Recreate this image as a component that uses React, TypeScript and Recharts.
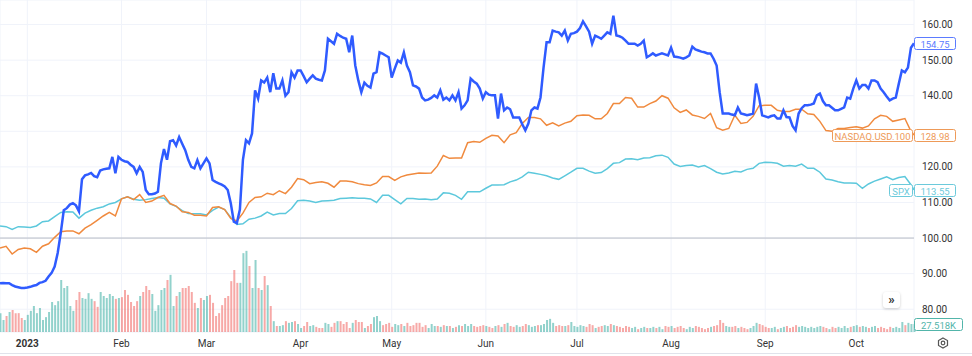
import {
  Bar,
  CartesianGrid,
  Cell,
  ComposedChart,
  Line,
  ReferenceDot,
  ReferenceLine,
  XAxis,
  YAxis,
} from "recharts";

// x axis = day index, 0 = 23 Dec 2022
const monthTicks = [9, 40, 68, 99, 129, 160, 190, 221, 252, 282];
const monthLabels = ["2023", "Feb", "Mar", "Apr", "May", "Jun", "Jul", "Aug", "Sep", "Oct"];
const priceTicks = [80, 90, 100, 110, 120, 130, 140, 150, 160];

// main symbol, one value per day
const mainClose = [
  87.3, 87.4, 87.3, 87.3, 86.8, 86.4, 86.2, 86.0, 86.0, 86.1,
  86.3, 86.6, 86.8, 87.4, 87.6, 88.0, 89.2, 90.2, 92.0, 95.8,
  101.4, 107.8, 108.4, 109.4, 109.8, 109.2, 107.5, 116.5, 117.6, 117.9,
  118.3, 117.4, 117.1, 119.0, 119.3, 119.5, 119.6, 122.8, 118.2, 122.8,
  122.0, 121.6, 121.4, 120.6, 120.0, 118.2, 120.0, 118.6, 113.5, 112.3,
  112.3, 112.5, 113.0, 121.0, 125.0, 122.0, 127.2, 127.5, 126.0, 128.4,
  126.5, 124.7, 122.0, 120.0, 119.6, 121.9, 119.6, 121.0, 122.4, 121.0,
  116.3, 115.8, 115.4, 115.0, 114.5, 113.5, 109.8, 104.6, 104.2, 108.0,
  122.0, 127.5, 126.6, 129.4, 141.5, 139.2, 144.3, 143.7, 145.1, 141.0,
  146.3, 142.0, 142.0, 144.3, 140.0, 141.0, 146.6, 145.1, 147.1, 147.1,
  145.5, 143.8, 144.8, 145.7, 144.8, 144.5, 144.3, 147.1, 156.0, 155.3,
  154.6, 157.4, 156.8, 156.3, 156.0, 152.2, 156.9, 148.5, 144.3, 141.0,
  143.7, 142.8, 142.3, 146.2, 146.6, 152.2, 151.8, 151.3, 150.8, 145.1,
  147.6, 149.9, 149.3, 152.2, 148.5, 146.6, 142.9, 142.6, 142.0, 139.5,
  138.7, 138.9, 139.4, 140.1, 139.5, 141.5, 138.9, 139.5, 138.7, 140.1,
  138.7, 141.0, 136.4, 137.3, 138.7, 144.8, 144.0, 143.4, 142.0, 139.2,
  141.0, 140.3, 140.1, 140.1, 133.6, 140.6, 135.9, 136.7, 136.2, 133.9,
  133.9, 133.9, 132.0, 130.3, 132.2, 135.9, 136.7, 136.4, 139.5, 147.9,
  155.0, 155.0, 158.3, 158.0, 157.8, 156.9, 158.3, 155.5, 157.4, 157.6,
  158.0, 159.0, 160.9, 159.5, 158.0, 154.6, 156.9, 156.5, 156.0, 156.9,
  157.8, 157.4, 162.5, 156.9, 156.7, 156.3, 155.5, 154.6, 154.6, 154.6,
  154.1, 154.6, 155.5, 150.8, 151.3, 151.9, 151.3, 151.6, 151.9, 151.6,
  151.3, 153.5, 151.0, 150.9, 150.7, 150.4, 150.8, 151.3, 153.8, 153.0,
  152.7, 152.4, 152.2, 151.9, 151.9, 150.4, 148.5, 141.0, 135.0, 135.0,
  135.0, 134.7, 134.5, 136.7, 135.0, 134.8, 134.5, 134.7, 135.0, 143.4,
  139.5, 134.5, 134.2, 133.9, 134.3, 134.5, 133.6, 133.6, 135.9, 134.0,
  133.9, 131.5, 130.3, 135.0, 136.5, 137.3, 137.3, 137.5, 137.8, 140.1,
  140.6, 138.5, 137.3, 137.3, 136.6, 135.9, 135.9, 136.3, 136.7, 139.5,
  139.2, 142.0, 144.3, 142.0, 143.0, 143.0, 142.0, 144.3, 144.3, 143.8,
  142.0, 141.0, 139.8, 138.7, 139.2, 139.5, 143.4, 147.1, 146.6, 147.9,
  153.5, 154.75,
];

// compared symbols, read every second day (0, 2, ... 300) plus the last close
const nasdaqEven = [
  97.2, 97.7, 95.5, 96.8, 97.2, 97.0, 96.0, 97.7, 98.4, 100.2,
  101.8, 102.0, 102.0, 101.2, 102.8, 103.8, 105.0, 106.2, 107.2, 106.2,
  111.0, 111.6, 110.8, 112.2, 110.0, 110.4, 111.4, 112.0, 109.7, 109.0,
  107.4, 107.2, 106.4, 106.4, 106.2, 108.6, 108.8, 108.0, 105.5, 104.8,
  107.0, 110.0, 111.4, 111.6, 112.6, 112.2, 113.3, 112.5, 114.3, 116.7,
  116.4, 115.3, 115.6, 115.8, 115.4, 114.3, 116.0, 116.0, 115.8, 115.3,
  115.0, 114.8, 115.5, 117.3, 117.3, 116.2, 117.2, 117.7, 118.0, 118.3,
  118.2, 118.3, 120.2, 123.2, 122.4, 122.5, 122.5, 126.8, 127.1, 126.9,
  128.0, 128.9, 128.7, 126.8, 129.0, 129.6, 132.2, 133.9, 133.9, 133.5,
  131.7, 132.4, 131.5, 132.3, 132.8, 134.4, 134.6, 134.5, 133.5, 133.5,
  135.0, 137.8, 137.8, 139.5, 139.3, 136.8, 136.8, 137.8, 138.5, 140.0,
  139.3, 136.6, 135.3, 136.0, 134.6, 134.2, 133.6, 135.0, 131.0, 130.3,
  130.8, 134.5, 132.2, 132.5, 134.2, 137.2, 137.3, 137.3, 135.9, 135.6,
  135.6, 136.2, 136.2, 134.9, 134.7, 132.8, 130.2, 130.0, 130.8, 130.8,
  131.1, 131.3, 130.9, 131.5, 133.5, 134.5, 134.2, 132.8, 133.2, 133.6,
  130.0,
];
const nasdaqLast = 128.98;

const spxEven = [
  103.4, 103.2, 102.4, 103.2, 103.1, 103.0, 103.4, 104.6, 104.8, 106.0,
  107.2, 107.4, 107.3, 105.6, 107.0, 107.8, 108.4, 108.8, 109.6, 110.0,
  111.0, 111.6, 110.9, 110.6, 110.8, 111.1, 111.4, 111.2, 109.6, 108.9,
  107.7, 106.9, 106.8, 106.8, 106.5, 107.8, 108.7, 108.0, 105.8, 103.8,
  104.0, 105.3, 105.6, 106.2, 107.3, 106.5, 106.9, 106.9, 108.3, 110.5,
  110.6, 110.4, 110.0, 110.4, 110.5, 110.6, 111.1, 111.2, 111.3, 111.2,
  111.2, 111.0, 110.0, 112.0, 112.0, 110.8, 109.6, 111.1, 111.1, 110.9,
  111.0, 110.8, 111.0, 112.7, 112.6, 112.0, 110.9, 113.0, 113.0, 113.0,
  114.0, 114.9, 114.9, 115.0, 115.8, 116.3, 117.2, 118.5, 118.2, 117.9,
  117.5, 116.9, 116.5, 117.5, 118.5, 119.6, 119.6, 118.8, 118.2, 118.4,
  119.5, 121.0, 121.2, 122.2, 122.3, 122.0, 122.5, 122.6, 123.1, 123.3,
  122.7, 120.8, 120.1, 120.4, 120.5, 120.0, 120.4, 119.5, 118.5, 118.0,
  118.3, 118.8, 118.6, 119.3, 119.6, 121.0, 121.3, 121.2, 121.0, 120.2,
  120.4, 120.2, 120.8, 119.6, 119.6, 118.5, 116.6, 116.3, 115.8, 115.5,
  115.5, 115.4, 114.0, 115.2, 116.0, 116.6, 117.2, 116.4, 117.0, 117.3,
  115.0,
];
const spxLast = 113.55;

// volume in thousands, one value per day
const volumeK = [
  66, 42, 56, 70, 77, 66, 66, 49, 42, 60,
  74, 91, 66, 84, 42, 52, 70, 105, 94, 108,
  182, 154, 161, 91, 74, 112, 140, 119, 116, 136,
  116, 108, 88, 140, 126, 119, 133, 126, 116, 119,
  122, 147, 130, 105, 91, 108, 126, 140, 161, 147,
  133, 74, 94, 147, 154, 182, 200, 91, 126, 140,
  154, 154, 161, 140, 102, 84, 119, 112, 126, 130,
  102, 56, 66, 94, 119, 126, 178, 217, 172, 172,
  276, 284, 231, 154, 252, 154, 147, 196, 164, 91,
  38, 21, 21, 24, 38, 32, 35, 38, 28, 14,
  21, 35, 21, 24, 18, 14, 14, 32,
  28, 18, 32, 38, 38, 28, 35, 14, 32, 42,
  35, 35, 14, 21, 28, 52, 56, 38, 24, 28,
  32, 18, 28, 24, 28, 21, 32, 21, 24, 32,
  32, 18, 24, 14, 28, 21, 21, 18, 24, 21,
  21, 14, 18, 24, 21, 28, 21, 28, 21, 18,
  21, 24, 21, 18, 14, 21, 24, 18, 28, 32,
  21, 18, 24, 18, 21, 28, 24, 18, 21, 24,
  24, 28, 42, 46, 32, 21, 24, 21, 21, 24,
  35, 21, 18, 24, 21, 18, 28, 24, 14, 18,
  21, 24, 21, 28, 24, 21, 18, 14, 21, 18,
  14, 18, 10, 14, 18, 14, 14, 18, 14, 18,
  10, 21, 18, 21, 14, 18, 21, 14, 10, 18,
  14, 21, 18, 14, 10, 14, 18, 21, 24, 42,
  32, 21, 18, 18, 21, 14, 18, 14, 10, 14,
  21, 32, 28, 24, 18, 14, 14, 18, 10, 14,
  18, 21, 14, 18, 24, 18, 21, 18, 14, 18,
  14, 18, 21, 18, 14, 10, 18, 14, 18, 14,
  21, 14, 18, 21, 24, 18, 21, 18, 14, 18,
  21, 14, 18, 14, 10, 18, 14, 18, 14, 35,
  24, 32, 28, 27.518,
];

const BLUE = "#2f5bff";
const ORANGE = "#f08a3e";
const CYAN = "#5cc8dc";
const UP = "rgba(38,166,154,0.5)";
const DOWN = "rgba(239,83,80,0.5)";

const lastIdx = mainClose.length - 1;
const rows = mainClose.map((v, d) => ({
  d,
  main: v,
  vol: volumeK[d],
  up: d === 0 || v >= mainClose[d - 1],
  nasdaq: d % 2 === 0 ? nasdaqEven[d / 2] : d === lastIdx ? nasdaqLast : null,
  spx: d % 2 === 0 ? spxEven[d / 2] : d === lastIdx ? spxLast : null,
}));

// value labels on the right axis that sit under a tag are not drawn
const coveredTicks = [130];

function Tag({ cy, color, text, name, nameWidth, width = 41 }: any) {
  const top = Math.round(cy) - 6 + 0.5;
  return (
    <g>
      {name && (
        <g>
          <rect x={912.5 - nameWidth} y={top} width={nameWidth} height={12} rx={2} fill="#fff" stroke={color} />
          <text x={912.5 - nameWidth / 2} y={top + 6.5} textAnchor="middle" dominantBaseline="central" fontSize={9.5} fill={color}>
            {name}
          </text>
        </g>
      )}
      <rect x={914.5} y={top} width={width} height={12} rx={2} fill="#fff" stroke={color} />
      <text x={914.5 + width / 2} y={top + 6.5} textAnchor="middle" dominantBaseline="central" fontSize={9.5} fill={color}>
        {text}
      </text>
    </g>
  );
}

function MonthTick({ x, y, payload }: any) {
  const i = monthTicks.indexOf(payload.value);
  return (
    <text x={x} y={y + 15} textAnchor="middle" fontSize={10} fill="#333" fontWeight={i === 0 ? 700 : 400}>
      {monthLabels[i]}
    </text>
  );
}

function PriceTick({ x, y, payload }: any) {
  if (coveredTicks.includes(payload.value)) return <g />;
  return (
    <text x={x} y={y} dy="0.355em" textAnchor="start" fontSize={10} fill="#333">
      {payload.value.toFixed(2)}
    </text>
  );
}

export default function App() {
  return (
    <div
      style={{
        position: "fixed",
        left: 0,
        top: 0,
        width: 972,
        height: 356,
        background: "#fff",
        fontFamily: "Roboto, 'Liberation Sans', Arial, sans-serif",
      }}
    >
      <ComposedChart
        width={972}
        height={356}
        data={rows}
        margin={{ top: 0, right: 0, bottom: 0, left: 0 }}
        accessibilityLayer={false}
      >
        <CartesianGrid stroke="#f0f3fa" yAxisId="price" />
        <XAxis
          dataKey="d"
          type="number"
          domain={[0, 301]}
          ticks={monthTicks}
          height={24}
          tickSize={0}
          tickMargin={0}
          axisLine={false}
          tickLine={false}
          tick={<MonthTick />}
        />
        <YAxis
          yAxisId="price"
          orientation="right"
          width={58}
          domain={[73.6, 166.9]}
          ticks={priceTicks}
          axisLine={false}
          tickLine={false}
          tickSize={0}
          tickMargin={8}
          tick={<PriceTick />}
        />
        <YAxis yAxisId="vol" hide domain={[0, 1162]} />
        <ReferenceLine y={100} yAxisId="price" stroke="#b9bcc5" />
        <Bar dataKey="vol" yAxisId="vol" barSize={2} isAnimationActive={false}>
          {rows.map((r) => (
            <Cell key={r.d} fill={r.up ? UP : DOWN} />
          ))}
        </Bar>
        <Line
          yAxisId="price"
          dataKey="spx"
          stroke={CYAN}
          strokeWidth={1.5}
          dot={false}
          activeDot={false}
          connectNulls
          isAnimationActive={false}
        />
        <Line
          yAxisId="price"
          dataKey="nasdaq"
          stroke={ORANGE}
          strokeWidth={1.5}
          dot={false}
          activeDot={false}
          connectNulls
          isAnimationActive={false}
        />
        <Line
          yAxisId="price"
          dataKey="main"
          stroke={BLUE}
          strokeWidth={2.5}
          dot={false}
          activeDot={false}
          isAnimationActive={false}
        />
        <ReferenceDot
          yAxisId="price"
          x={lastIdx}
          y={mainClose[lastIdx]}
          r={0}
          ifOverflow="visible"
          shape={(p: any) => <Tag cy={p.cy} color="#5b7bff" text={mainClose[lastIdx].toFixed(2)} />}
        />
        <ReferenceDot
          yAxisId="price"
          x={lastIdx}
          y={nasdaqLast}
          r={0}
          ifOverflow="visible"
          shape={(p: any) => (
            <Tag cy={p.cy} color="#ee9a58" text={nasdaqLast.toFixed(2)} name="NASDAQ.USD.100" nameWidth={80} />
          )}
        />
        <ReferenceDot
          yAxisId="price"
          x={lastIdx}
          y={spxLast}
          r={0}
          ifOverflow="visible"
          shape={(p: any) => <Tag cy={p.cy} color="#6ccadb" text={spxLast.toFixed(2)} name="SPX" nameWidth={23} />}
        />
        <ReferenceDot
          yAxisId="vol"
          x={lastIdx}
          y={volumeK[lastIdx]}
          r={0}
          ifOverflow="visible"
          shape={(p: any) => (
            <Tag cy={Math.min(p.cy, 327)} color="#52b5aa" text={volumeK[lastIdx].toFixed(3) + "K"} width={48} />
          )}
        />
      </ComposedChart>
      <div style={{ position: "absolute", left: 0, top: 353, width: 972, height: 1, background: "#e0e3eb" }} />
      <div
        style={{
          position: "absolute",
          left: 883,
          top: 292,
          width: 17,
          height: 16,
          background: "#fff",
          borderRadius: 3,
          boxShadow: "0 1px 3px rgba(0,0,0,0.2)",
          fontSize: 13,
          lineHeight: "15px",
          textAlign: "center",
          color: "#333",
          fontWeight: 700,
        }}
      >
        »
      </div>
      <svg style={{ position: "absolute", left: 937, top: 337 }} width={12} height={12}>
        <polygon points="6,1 10.5,3.5 10.5,8.5 6,11 1.5,8.5 1.5,3.5" fill="none" stroke="#555" strokeWidth={1.2} />
        <circle cx={6} cy={6} r={1.8} fill="none" stroke="#555" strokeWidth={1.2} />
      </svg>
    </div>
  );
}
